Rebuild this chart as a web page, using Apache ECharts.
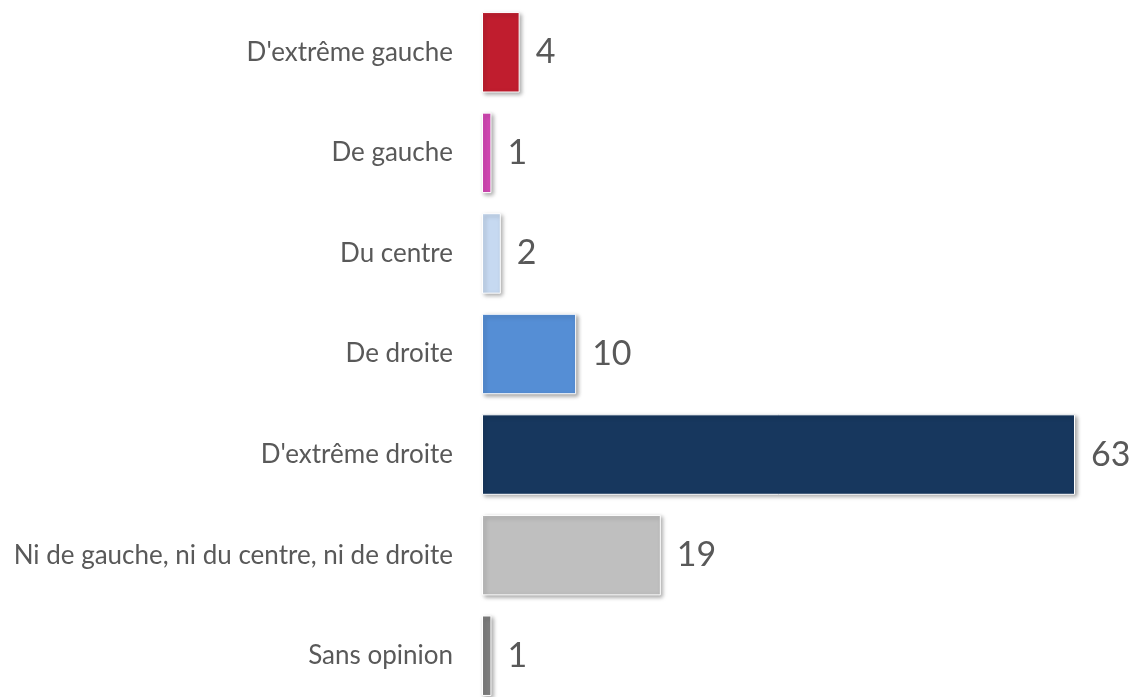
<!DOCTYPE html>
<html>
<head>
<meta charset="utf-8">
<script src="https://cdn.jsdelivr.net/npm/echarts@6/dist/echarts.min.js"></script>
<style>
  html, body { margin: 0; padding: 0; background: #fff; }
  #chart { width: 1136px; height: 697px; }
</style>
</head>
<body>
<div id="chart"></div>
<script>
// categories top to bottom
var categories = ["D'extrême gauche", 'De gauche', 'Du centre', 'De droite',
  "D'extrême droite", 'Ni de gauche, ni du centre, ni de droite', 'Sans opinion'];
var values = [4, 1, 2, 10, 63, 19, 1];
var colors = ['#C01D2E', '#D348B4', '#C6D9F1', '#558ED5', '#17375E', '#BFBFBF', '#7F7F7F'];

var chart = echarts.init(document.getElementById('chart'));

var barData = [];
for (var i = 0; i < values.length; i++) {
  barData.push({ value: values[i], itemStyle: { color: colors[i] } });
}

chart.setOption({
  animation: false,
  grid: { left: 482, right: 61, top: 2, bottom: -9, outerBoundsMode: 'none' },
  xAxis: {
    type: 'value', min: 0, max: 63, show: false
  },
  yAxis: {
    type: 'category',
    inverse: true,
    data: categories,
    axisLine: { show: false },
    axisTick: { show: false },
    axisLabel: {
      margin: 29,
      color: '#595959',
      fontFamily: 'Lato',
      fontSize: 26
    }
  },
  series: [{
    type: 'bar',
    data: barData,
    barCategoryGap: '20%',
    itemStyle: {
      borderColor: '#fff',
      borderWidth: 1,
      shadowColor: 'rgba(0,0,0,0.35)',
      shadowBlur: 4,
      shadowOffsetX: 2,
      shadowOffsetY: 2
    },
    label: {
      show: true,
      position: 'right',
      distance: 16,
      color: '#595959',
      fontFamily: 'Lato',
      fontSize: 34
    }
  }]
});
</script>
</body>
</html>
